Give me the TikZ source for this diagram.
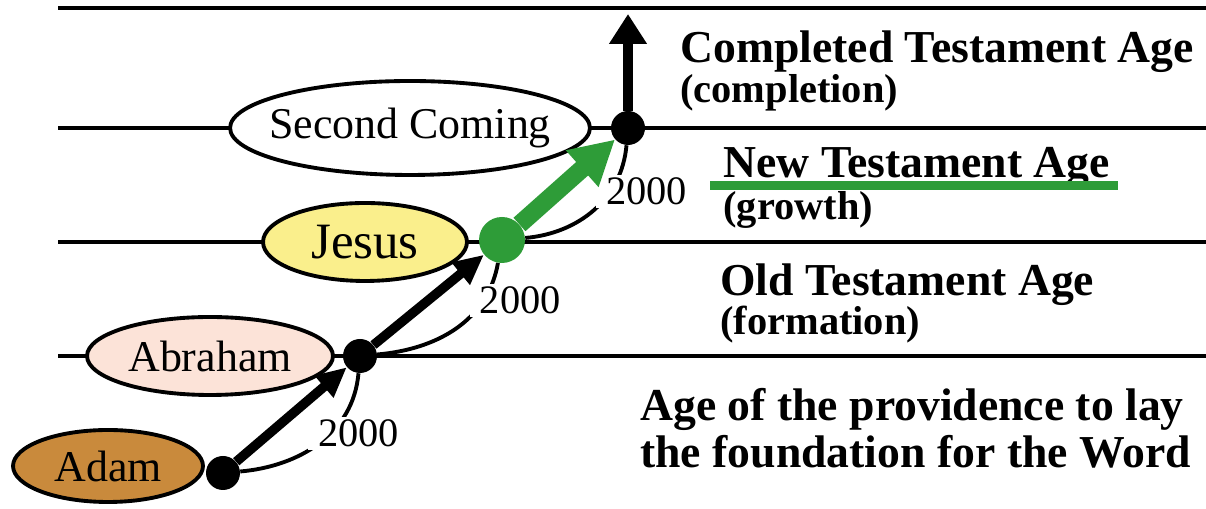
\documentclass[tikz,border=0pt]{standalone}
\usepackage{fontspec}
\setmainfont{Liberation Serif}
\usetikzlibrary{arrows.meta,shapes.geometric,positioning}

\definecolor{adamc}{HTML}{C98A3C}
\definecolor{abrahamc}{HTML}{FCE3D8}
\definecolor{jesusc}{HTML}{FAEF8C}
\definecolor{growgreen}{HTML}{2E9C38}

\begin{document}
\begin{tikzpicture}[x=0.02cm,y=0.02cm,
		  level/.style={line width=2.3pt},
		  person/.style={ellipse,draw,line width=2.2pt,inner sep=0pt,font=\fontsize{25}{30}\selectfont},
		  dot/.style={circle,fill=black,inner sep=0pt,minimum size=0.68cm},
		  span/.style={line width=2.2pt},
		  years/.style={fill=white,inner xsep=0.2cm,inner ysep=0.06cm,anchor=south west,font=\fontsize{23}{28}\selectfont},
		  era/.style={anchor=base west,inner sep=0pt,font=\bfseries\fontsize{26}{31}\selectfont},
		  erasub/.style={anchor=base west,inner sep=0pt,font=\bfseries\fontsize{23}{28}\selectfont},
		  leap/.style={line width=0.19cm,-{Triangle[length=0.6cm,width=0.54cm]}},
		  greenleap/.style={growgreen,line width=0.36cm,-{Triangle[length=0.88cm,width=0.92cm]}},
		  rise/.style={line width=0.2cm,-{Triangle[length=0.6cm,width=0.72cm]}}]
		  \useasboundingbox (0,0) rectangle (1206,509);

		  \foreach \y in {501,381,267,153}
		    \draw[level] (58,\y) -- (1206,\y);

		  \node[person,fill=adamc,minimum width=3.8cm,minimum height=1.44cm] (adam) at (108,43) {Adam};
		  \node[person,fill=abrahamc,minimum width=4.92cm,minimum height=1.56cm] (abraham) at (210,153) {Abraham};
		  \node[person,fill=jesusc,minimum width=4.08cm,minimum height=1.56cm,font=\fontsize{29}{34}\selectfont] (jesus) at (365,267) {Jesus};
		  \node[person,fill=white,minimum width=7.2cm,minimum height=1.88cm] (second) at (410,381) {\makebox[0pt]{Second Coming}};

		  \node[dot] (adamdot) at (223,36) {};
		  \node[dot] (abrahamdot) at (360,153) {};
		  \node[dot,fill=growgreen,minimum size=0.92cm] (jesusdot) at (502,269) {};
		  \node[dot] (seconddot) at (628,381) {};
		  \coordinate (peak) at (628,495);

		  \draw[span] (adamdot) to[out=5,in=-95] node[years,pos=0.4] {2000} (abrahamdot);
		  \draw[span] (abrahamdot) to[out=5,in=-100] node[years,pos=0.6] {2000} (jesusdot);
		  \draw[span] (jesusdot) to[out=5,in=-95] node[years,pos=0.5] {2000} (seconddot);

		  \draw[leap] (adamdot) -- (abrahamdot);
		  \draw[leap] (abrahamdot) -- (jesusdot);
		  \draw[greenleap] (jesusdot) -- (seconddot);
		  \draw[rise] (seconddot) -- (peak);

		  \node[era] (ctage) at (680,446) {Completed Testament Age};
		  \node[erasub] (ctsub) at ([yshift=-0.8cm]ctage.base west) {(completion)};
		  \node[era] (ntage) at (723,331) {New Testament Age};
		  \node[erasub] (ntsub) at ([yshift=-0.84cm]ntage.base west) {(growth)};
		  \node[era] (otage) at (720,213) {Old Testament Age};
		  \node[erasub] (otsub) at ([yshift=-0.78cm]otage.base west) {(formation)};
		  \node[era,anchor=north west,align=left,font=\bfseries\fontsize{26}{26.6}\selectfont] (fdage) at (640,121) {Age of the providence to lay\\the foundation for the Word};

		  \coordinate (ulA) at (710,323);
		  \coordinate (ulB) at (1118,323);
		  \draw[growgreen,line width=0.18cm] (ulA) -- (ulB);
		\end{tikzpicture}
\end{document}
